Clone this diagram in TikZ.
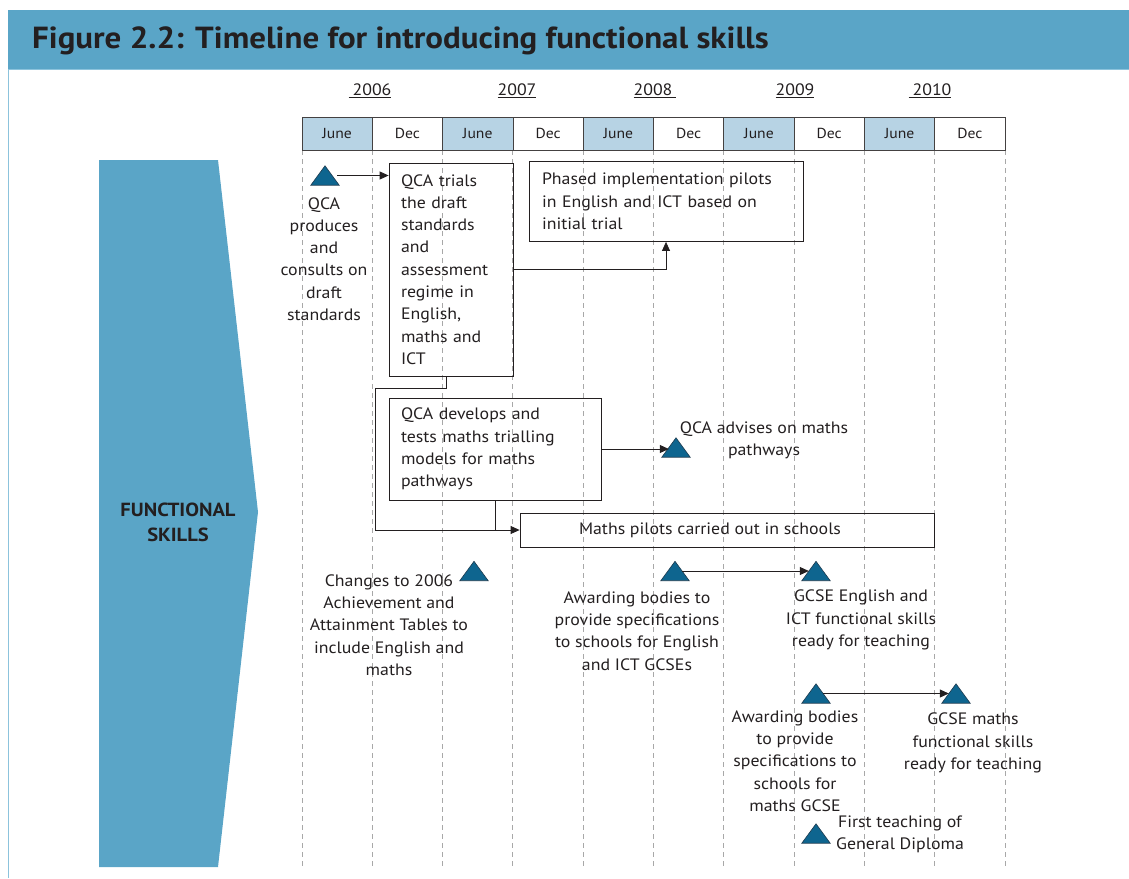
\documentclass[tikz,border=0pt]{standalone}
\usepackage{fontspec}
\setmainfont{PT Sans}[FakeStretch=1.08]
\usetikzlibrary{arrows.meta}
\definecolor{barblue}{RGB}{90,165,199}
\definecolor{edgeblue}{RGB}{140,195,220}
\definecolor{juneblue}{RGB}{183,211,228}
\definecolor{trifill}{RGB}{14,101,143}
\definecolor{triedge}{RGB}{30,58,78}
\definecolor{ink}{RGB}{35,31,32}
\definecolor{gridgrey}{RGB}{168,168,168}
\tikzset{
  body/.style={font=\fontsize{16.5}{22.3}\selectfont, text=ink, inner sep=0pt, align=center},
  box/.style={draw=ink, line width=0.8pt, font=\fontsize{16.5}{22.3}\selectfont, text=ink, align=left, inner ysep=0pt},
  longbox/.style={draw=ink, line width=0.8pt, font=\fontsize{16.5}{22.3}\selectfont, text=ink, inner ysep=0pt, inner xsep=0pt},
  tri/.style={minimum width=28pt, minimum height=19pt, inner sep=0pt},
  trishape/.style={fill=trifill, draw=triedge, line width=0.6pt},
  arr/.style={draw=ink, line width=0.8pt, -{Triangle[length=9pt,width=8pt]}},
  conn/.style={draw=ink, line width=0.8pt},
  grid/.style={draw=gridgrey, line width=0.9pt, dash pattern=on 5pt off 4pt},
  cell/.style={draw=ink!85, line width=0.8pt, minimum width=70.3pt, minimum height=33pt, inner sep=0pt, font=\fontsize{14.5}{16}\selectfont, text=ink},
  year/.style={font=\fontsize{16.5}{18}\selectfont, text=ink, inner sep=0pt}
}
\begin{document}
\begin{tikzpicture}[x=1pt,y=-1pt]
\useasboundingbox (0,0) rectangle (1129,878);
% title bar
\fill[barblue] (8,10) rectangle (1129,69);
\draw[edgeblue, line width=1.4pt] (8.7,69) -- (8.7,878);
\draw[edgeblue, line width=0.8pt] (8,69) -- (1129,69);
\node[anchor=west, inner sep=0pt, text=ink, font=\fontsize{30.5}{34}\bfseries\selectfont] (title) at (32,41) {Figure 2.2: Timeline for introducing functional skills};
% left arrow shape
\fill[barblue] (99,160) -- (218,160) -- (258,512) -- (218,867) -- (99,867) -- cycle;
\node[text=ink, font=\fontsize{19}{25}\bfseries\selectfont, align=center, inner sep=0pt] (fs) at (178,522) {FUNCTIONAL\\SKILLS};
% grid lines
\foreach \i in {0,...,10} {
  \draw[grid] (302+70.3*\i,150) -- (302+70.3*\i,868);
}
% header cells
\foreach \i/\m in {0/June,1/Dec,2/June,3/Dec,4/June,5/Dec,6/June,7/Dec,8/June,9/Dec} {
  \pgfmathsetmacro{\cx}{302+70.3*\i+35.15}
  \pgfmathparse{int(mod(\i,2))}
  \ifnum\pgfmathresult=0
    \node[cell, fill=juneblue] (m\i) at (\cx,133.5) {\m};
  \else
    \node[cell] (m\i) at (\cx,133.5) {\m};
  \fi
}
% years
\node[year] (y2006) at (370,91) {\underline{\hspace{4pt}2006}};
\node[year] (y2007) at (517,91) {\underline{2007}};
\node[year] (y2008) at (655,91) {\underline{2008\hspace{4pt}}};
\node[year] (y2009) at (795,91) {\underline{2009}};
\node[year] (y2010) at (930,91) {\underline{\hspace{4pt}2010}};

% boxes
\node[box, minimum width=124pt, minimum height=213pt, text width=100pt, inner xsep=12pt] (trials) at (451,269.5)
  {QCA trials\\the draft\\standards\\and\\assessment\\regime in\\English,\\maths and\\ICT};
\node[box, minimum width=274pt, minimum height=80pt, text width=248pt, inner xsep=13pt] (phased) at (666,201.5)
  {Phased implementation pilots\\in English and ICT based on\\initial trial};
\node[box, minimum width=212pt, minimum height=102pt, text width=188pt, inner xsep=12pt] (develops) at (495,449)
  {QCA develops and\\tests maths trialling\\models for maths\\pathways};
\node[longbox, minimum width=414pt, minimum height=34pt] (pilots) at (727,530)
  {Maths pilots carried out in schools\hspace*{34pt}};

% triangles
\foreach \n/\x/\y in {t1/325/175.5, tadv/676/447.5, tchg/474/571, tab1/675/571, tgce/816/571, tab2/816/693.5, tgcm/956/693.5, tfirst/816/833.5} {
  \node[tri] (\n) at (\x,\y) {};
  \path[trishape] (\n.south west) -- (\n.north) -- (\n.south east) -- cycle;
}

% texts
\node[body] (qcaprod) at (324,259) {QCA\\produces\\and\\consults on\\draft\\standards};
\node[body] (changes) at (389,625) {Changes to 2006\\Achievement and\\Attainment Tables to\\include English and\\maths};
\node[body] (adv) at (764,440) {QCA advises on maths\\pathways};
\node[body] (ab1) at (637,631) {Awarding bodies to\\provide specifications\\to schools for English\\and ICT GCSEs};
\node[body] (gce) at (861,620) {GCSE English and\\ICT functional skills\\ready for teaching};
\node[body] (ab2) at (795,761) {Awarding bodies\\to provide\\specifications to\\schools for\\maths GCSE};
\node[body] (gcm) at (973,743) {GCSE maths\\functional skills\\ready for teaching};
\node[body] (first) at (900,834) {First teaching of\\General Diploma};

% connectors
\coordinate (bend) at (375,388);
\draw[arr] ([xshift=-2pt]t1.east) -- (t1.east -| trials.west);
\draw[arr] (trials.east) -| (phased.south);
\draw[arr] ([xshift=-5pt]trials.south) |- (bend) |- (pilots.west);
\draw[conn] (develops.south) -- (develops.south |- pilots.west);
\draw[arr] (develops.east) -- ([xshift=7pt]develops.east -| tadv.west);
\draw[arr] ([xshift=-7pt]tab1.east) -- ([xshift=7pt]tgce.west);
\draw[arr] ([xshift=-7pt]tab2.east) -- ([xshift=7pt]tgcm.west);
\end{tikzpicture}
\end{document}
